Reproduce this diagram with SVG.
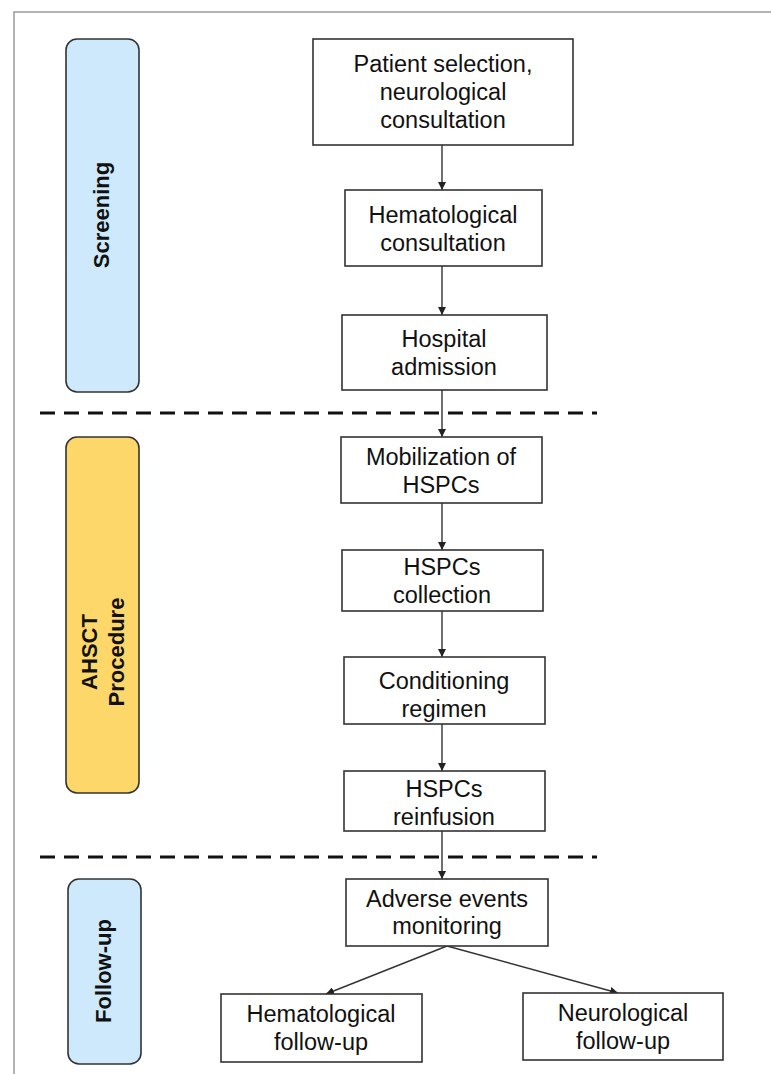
<svg xmlns="http://www.w3.org/2000/svg" width="771" height="1074" viewBox="0 0 771 1074">
<style>
.box{fill:#fff;stroke:#333;stroke-width:1.6}
.phase{stroke:#333;stroke-width:1.6}
.t{font-family:"Liberation Sans",Arial,sans-serif;font-size:23.5px;fill:#111;text-anchor:middle}
.lbl{font-family:"Liberation Sans",Arial,sans-serif;font-size:22px;font-weight:bold;fill:#111;text-anchor:middle}
.dash{stroke:#111;stroke-width:3;stroke-dasharray:15 9;fill:none}
.arr{stroke:#333;stroke-width:1.4;fill:none;marker-end:url(#ah)}
</style>
<defs>
<marker id="ah" viewBox="0 0 10 10" refX="10" refY="5" markerWidth="8" markerHeight="8" markerUnits="userSpaceOnUse" orient="auto">
<path d="M0,0 L10,5 L0,10 z" fill="#222"/>
</marker>
</defs>
<rect width="771" height="1074" fill="#fff"/>
<path d="M14,1074 V12 H771" fill="none" stroke="#9a9a9a" stroke-width="1.5"/>

<g id="phase-screening">
<rect class="phase" x="66" y="39" width="73" height="353" rx="11" fill="#cde9fb"/>
<text class="lbl" transform="translate(109,215) rotate(-90)">Screening</text>
</g>
<g id="phase-ahsct">
<rect class="phase" x="66" y="437" width="73" height="356" rx="11" fill="#fdd769"/>
<text class="lbl" transform="translate(97,652) rotate(-90)">AHSCT</text>
<text class="lbl" transform="translate(124,652) rotate(-90)">Procedure</text>
</g>
<g id="phase-followup">
<rect class="phase" x="68" y="879" width="73" height="185" rx="11" fill="#cde9fb"/>
<text class="lbl" transform="translate(111,971) rotate(-90)">Follow-up</text>
</g>

<g id="separators">
<line class="dash" x1="40" y1="413" x2="597" y2="413"/>
<line class="dash" x1="40" y1="857" x2="597" y2="857"/>
</g>

<g id="connectors">
<line class="arr" x1="442" y1="145" x2="442" y2="190"/>
<line class="arr" x1="442" y1="266" x2="442" y2="315"/>
<line class="arr" x1="442" y1="390" x2="442" y2="437"/>
<line class="arr" x1="442" y1="503" x2="442" y2="550"/>
<line class="arr" x1="442" y1="611" x2="442" y2="657"/>
<line class="arr" x1="442" y1="724" x2="442" y2="771"/>
<line class="arr" x1="442" y1="831" x2="442" y2="879"/>
<line class="arr" x1="447" y1="946" x2="326" y2="994"/>
<line class="arr" x1="447" y1="946" x2="618" y2="993"/>
</g>

<g id="n-patient">
<rect class="box" x="313" y="39" width="260" height="106"/>
<text class="t" x="443" y="72">Patient selection,</text>
<text class="t" x="443" y="100">neurological</text>
<text class="t" x="443" y="128">consultation</text>
</g>
<g id="n-hemcons">
<rect class="box" x="345" y="190" width="197" height="76"/>
<text class="t" x="443" y="223">Hematological</text>
<text class="t" x="443" y="251">consultation</text>
</g>
<g id="n-hospital">
<rect class="box" x="342" y="315" width="205" height="75"/>
<text class="t" x="444" y="347">Hospital</text>
<text class="t" x="444" y="375">admission</text>
</g>
<g id="n-mobil">
<rect class="box" x="341" y="437" width="201" height="66"/>
<text class="t" x="441" y="465">Mobilization of</text>
<text class="t" x="441" y="493">HSPCs</text>
</g>
<g id="n-collect">
<rect class="box" x="342" y="550" width="201" height="61"/>
<text class="t" x="442" y="575">HSPCs</text>
<text class="t" x="442" y="603">collection</text>
</g>
<g id="n-cond">
<rect class="box" x="344" y="657" width="201" height="67"/>
<text class="t" x="444" y="689">Conditioning</text>
<text class="t" x="444" y="717">regimen</text>
</g>
<g id="n-reinf">
<rect class="box" x="344" y="771" width="201" height="60"/>
<text class="t" x="444" y="797">HSPCs</text>
<text class="t" x="444" y="825">reinfusion</text>
</g>
<g id="n-adverse">
<rect class="box" x="346" y="879" width="202" height="67"/>
<text class="t" x="447" y="907">Adverse events</text>
<text class="t" x="447" y="934">monitoring</text>
</g>
<g id="n-hemfu">
<rect class="box" x="221" y="994" width="201" height="68"/>
<text class="t" x="321" y="1022">Hematological</text>
<text class="t" x="321" y="1050">follow-up</text>
</g>
<g id="n-neurfu">
<rect class="box" x="523" y="993" width="200" height="67"/>
<text class="t" x="623" y="1021">Neurological</text>
<text class="t" x="623" y="1049">follow-up</text>
</g>
</svg>
